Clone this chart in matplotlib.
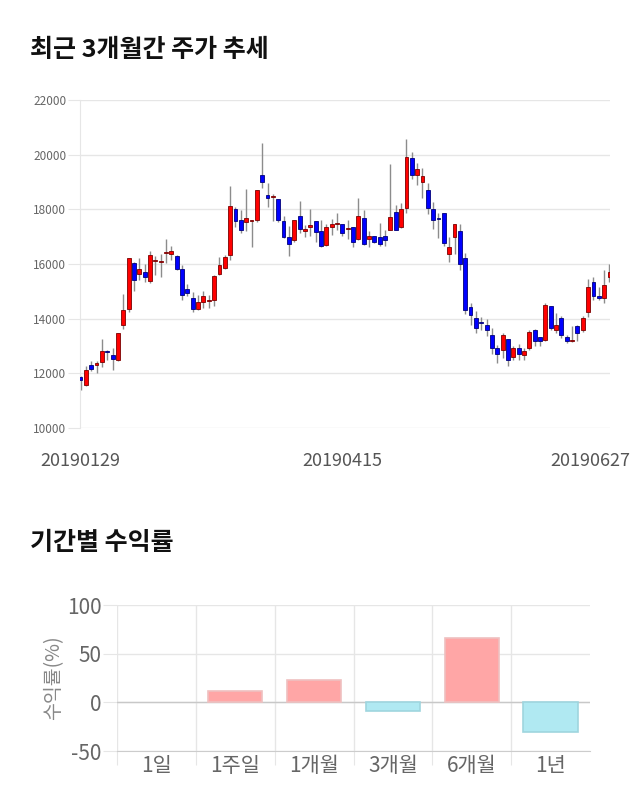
import matplotlib
matplotlib.use("Agg")
import matplotlib.pyplot as plt
import matplotlib.transforms as mtransforms

plt.rcParams['font.family'] = ['Noto Sans CJK KR', 'DejaVu Sans']
plt.rcParams['axes.unicode_minus'] = False

# 주가 데이터 (2019-01-29 ~ 2019-06-27, 일봉)
date_labels = ['20190129', '20190415', '20190627']
date_label_idx = [0, 49, 99]

opens = [11850, 11590, 12317, 12300, 12400, 12830, 12670, 12475, 13770, 14350,
         16030, 15630, 15715, 15360, 16110, 16055, 16400, 16360, 16275, 15810,
         15070, 14765, 14365, 14607, 14655, 14670, 15630, 15850, 16340, 18020,
         17615, 17520, 17565, 17600, 19260, 18515, 18440, 18370, 17555, 17005,
         16860, 17760, 17200, 17350, 17555, 17215, 16700, 17350, 17450, 17470,
         17270, 17370, 16905, 17665, 16905, 17030, 16970, 17030, 17250, 17910,
         17350, 18040, 19870, 19250, 19015, 18710, 18020, 17670, 17860, 16370,
         16980, 17215, 16215, 14425, 14020, 13890, 13780, 13415, 12925, 12865,
         13255, 12585, 12925, 12660, 12925, 13570, 13330, 13210, 14475, 13570,
         14020, 13330, 13170, 13720, 13570, 14230, 15330, 14815, 14755, 15520]
highs = [11900, 12280, 12440, 12440, 13255, 12870, 12925, 13470, 14910, 16215,
         16090, 16215, 15995, 16460, 16275, 16370, 16910, 16665, 16330, 15970,
         15280, 14960, 14875, 15010, 14875, 15600, 16270, 16330, 18860, 18100,
         17980, 18750, 17600, 18710, 20415, 18980, 18555, 18370, 17740, 17400,
         17615, 18310, 17430, 18015, 17555, 17620, 17450, 17650, 17860, 17470,
         17610, 17370, 18405, 17960, 17190, 17030, 17490, 17250, 19660, 18160,
         18230, 20560, 20110, 19710, 19500, 18980, 18285, 17860, 17860, 17005,
         17460, 17460, 16400, 14570, 14265, 14060, 13990, 13655, 13045, 13475,
         13255, 13010, 13090, 12925, 13570, 13620, 13330, 14570, 14475, 14200,
         14080, 13415, 13720, 13780, 14080, 15450, 15520, 15160, 15765, 16010]
lows = [11400, 11520, 12070, 12010, 12220, 12500, 12135, 12440, 13620, 14230,
        15020, 15420, 15340, 15320, 15610, 15520, 16030, 16150, 15790, 14690,
        14815, 14230, 14330, 14390, 14390, 14470, 15580, 15800, 16150, 17370,
        17150, 17225, 16615, 17520, 18770, 18100, 17555, 17520, 16940, 16310,
        16820, 17130, 16980, 17040, 16820, 16640, 16665, 17065, 17250, 17040,
        16900, 16615, 16860, 16700, 16615, 16770, 16665, 16665, 17250, 17250,
        17310, 17860, 19100, 18900, 18400, 17820, 17275, 16945, 16665, 16090,
        16370, 15765, 14180, 13780, 13475, 13570, 13375, 12720, 12380, 12560,
        12255, 12475, 12475, 12475, 12865, 13010, 13010, 13170, 13590, 13475,
        13290, 13110, 13145, 13170, 13530, 14060, 14690, 14670, 14570, 15330]
closes = [11750, 12135, 12160, 12380, 12830, 12770, 12525, 13470, 14330, 16215,
          15400, 15810, 15520, 16325, 16140, 16115, 16430, 16470, 15810, 14860,
          14935, 14365, 14620, 14825, 14690, 15570, 15970, 16260, 18130, 17555,
          17250, 17675, 17600, 18710, 19015, 18405, 18480, 17615, 16970, 16725,
          17615, 17275, 17275, 17430, 17165, 16665, 17370, 17470, 17470, 17150,
          17320, 16810, 17760, 16740, 17030, 16810, 16740, 16860, 17710, 17250,
          18020, 19905, 19250, 19465, 19225, 18065, 17615, 17650, 16760, 16640,
          17460, 16010, 14300, 14120, 13655, 13850, 13570, 12925, 12720, 13415,
          12475, 12925, 12720, 12805, 13510, 13170, 13170, 14510, 13655, 13780,
          13415, 13170, 13230, 13475, 14020, 15160, 14815, 14765, 15220, 15700]

# 기간별 수익률 데이터
periods = ['1일', '1주일', '1개월', '3개월', '6개월', '1년']
returns = [0, 11.5, 23.2, -9.2, 65.9, -30.7]

fig = plt.figure(figsize=(6.4, 8.1), dpi=100)

# 제목
fig.text(30 / 640, 1 - 50 / 810, '최근 3개월간 주가 추세', fontsize=18, fontweight='bold',
         ha='left', va='center', color='#111111')
fig.text(30 / 640, 1 - 543 / 810, '기간별 수익률', fontsize=18, fontweight='bold',
         ha='left', va='center', color='#111111')

# 캔들 차트
ax = fig.add_axes([80 / 640, (810 - 428) / 810, 530 / 640, 328 / 810])
n = len(opens)
xs = list(range(n))
for i in xs:
    o, h, l, c = opens[i], highs[i], lows[i], closes[i]
    up = c >= o
    face = '#ff0000' if up else '#0000ff'
    edge = '#7a0000' if up else '#00007a'
    ax.vlines(i, l, h, color='#8c8c8c', linewidth=1, zorder=2)
    body = max(abs(c - o), 35)
    ax.bar(i, body, bottom=min(o, c), width=0.72, color=face, edgecolor=edge,
           linewidth=0.6, zorder=3)

ax.set_xlim(-0.1, n - 0.9)
ax.set_ylim(10000, 22000)
ax.set_yticks(range(10000, 22001, 2000))
ax.yaxis.grid(True, color='#e6e6e6', linewidth=1)
ax.set_axisbelow(True)
for s in ['top', 'right', 'bottom']:
    ax.spines[s].set_visible(False)
ax.spines['left'].set_color('#e6e6e6')
ax.tick_params(axis='y', length=9, color='#e6e6e6', labelsize=8.5, labelcolor='#666666', pad=1)
ax.set_xticks(date_label_idx)
ax.set_xticklabels(date_labels)
ax.tick_params(axis='x', length=0, labelsize=13, labelcolor='#555555', pad=17)
lbls = ax.get_xticklabels()
lbls[-1].set_transform(lbls[-1].get_transform() +
                       mtransforms.ScaledTranslation(-0.19, 0, fig.dpi_scale_trans))

# 수익률 막대 차트
bx = fig.add_axes([117 / 640, (810 - 751) / 810, 473 / 640, 146 / 810])
bx_pos = list(range(len(periods)))
fills = ['#ffa6a6' if v >= 0 else '#b0e9f2' for v in returns]
edges = ['none' if v == 0 else ('#efc0c0' if v > 0 else '#9fd5de') for v in returns]
bx.bar(bx_pos, returns, width=0.69, color=fills, edgecolor=edges, linewidth=1.2, zorder=3)
bx.set_xlim(-0.5, len(periods) - 0.5)
bx.set_ylim(-50, 100)
bx.set_yticks([-50, 0, 50, 100])
bx.yaxis.grid(True, color='#e6e6e6', linewidth=1)
bx.axhline(0, color='#c8c8c8', linewidth=1, zorder=2)
bx.set_xticks([p - 0.5 for p in bx_pos])
bx.set_xticklabels([])
bx.xaxis.grid(True, color='#e6e6e6', linewidth=1)
bx.set_xticks(bx_pos, minor=True)
bx.set_xticklabels(periods, minor=True)
bx.tick_params(axis='x', which='major', length=10, color='#e6e6e6')
bx.tick_params(axis='x', which='minor', length=0, labelsize=15, labelcolor='#666666', pad=3)
bx.tick_params(axis='y', length=10, color='#e6e6e6', labelsize=15, labelcolor='#666666', pad=1)
bx.set_axisbelow(True)
for s in ['top', 'right', 'left']:
    bx.spines[s].set_visible(False)
bx.spines['bottom'].set_color('#cccccc')
bx.set_ylabel('수익률(%)', fontsize=14, color='#888888', labelpad=2)

fig.savefig('out.png', dpi=100)
